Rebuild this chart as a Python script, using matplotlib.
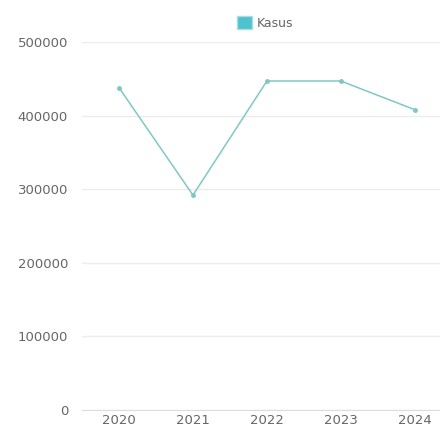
import matplotlib.pyplot as plt
from matplotlib.patches import Patch

years = ["2020", "2021", "2022", "2023", "2024"]
kasus = [438000, 292000, 447000, 447000, 408000]
yticks = [0, 100000, 200000, 300000, 400000, 500000]

line_color = "#7fc8c6"
text_color = "#666666"

fig = plt.figure(figsize=(4.4, 4.29), dpi=100)
ax = fig.add_axes([82 / 440, 19 / 429, 358 / 440, 368 / 429])

x = range(len(years))
ax.plot(x, kasus, color=line_color, linewidth=1.1, marker="o", markersize=2.5)

ax.set_xlim(-0.5, 4.34)
ax.set_ylim(0, 500000)
ax.set_xticks(list(x))
ax.set_xticklabels(years)
ax.set_yticks(yticks)
ax.set_yticklabels([str(v) for v in yticks])
ax.tick_params(axis="both", length=0, colors=text_color, labelsize=9.5)
ax.tick_params(axis="y", pad=10)
ax.tick_params(axis="x", pad=3)

for s in ["top", "right", "left"]:
    ax.spines[s].set_visible(False)
ax.spines["bottom"].set_color("#dddddd")
ax.grid(axis="y", color="#ececec", linewidth=1)
ax.set_axisbelow(True)

handle = Patch(facecolor="#4fc1cf", edgecolor="#a8dde3", linewidth=1)
fig.legend([handle], ["Kasus"], loc="center", bbox_to_anchor=(265 / 440, 1 - 23 / 429),
           frameon=False, fontsize=9, labelcolor=text_color,
           handlelength=1.2, handleheight=1.2, handletextpad=0.4)

fig.savefig("out.png", dpi=100)
